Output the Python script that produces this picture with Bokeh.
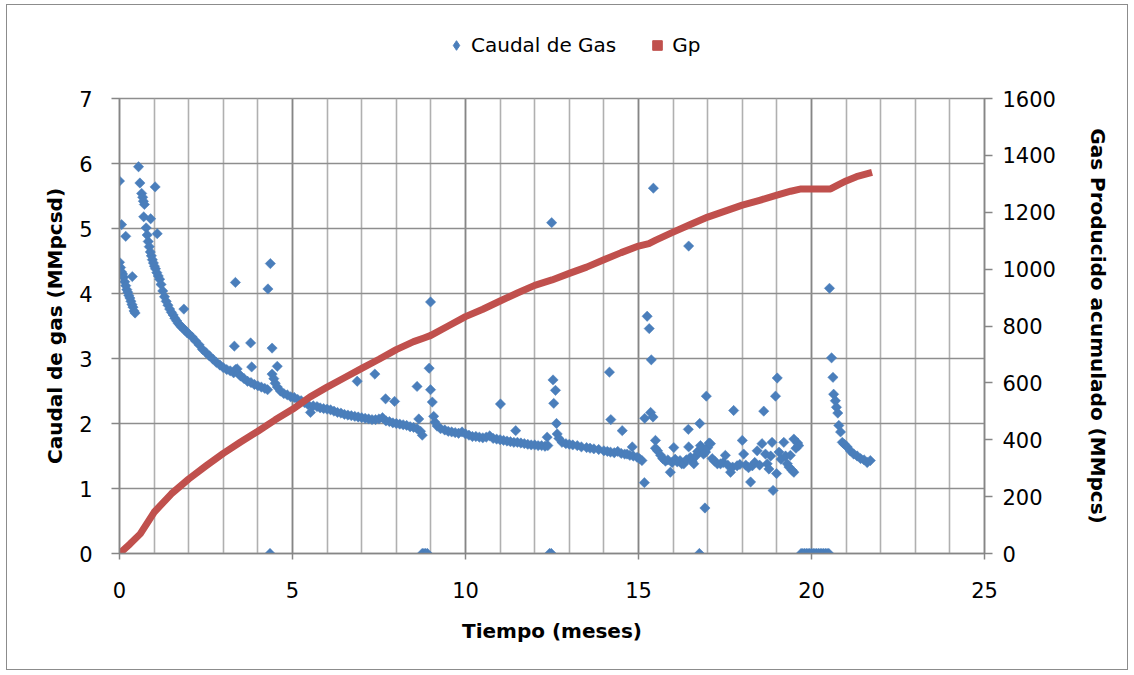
import math
from bokeh.plotting import figure
from bokeh.layouts import column
from bokeh.models import (Range1d, LinearAxis, SingleIntervalTicker, Legend, LegendItem)
from bokeh.embed import file_html
from bokeh.resources import INLINE

# ---------------- data ----------------
# Caudal de Gas (MMpcsd) vs tiempo (meses)
t_caudal = [
    # first decline
    0.00, 0.03, 0.06, 0.09, 0.12, 0.15, 0.18, 0.21, 0.24, 0.27, 0.30, 0.33, 0.36, 0.39, 0.42, 0.45,
    0.00, 0.06, 0.18, 0.37,
    # second decline
    0.55, 0.59, 0.64, 0.67, 0.69, 0.72, 0.70, 0.77, 0.80, 0.83, 0.86, 0.89, 0.92, 0.95, 0.98, 1.01,
    1.04, 1.08, 1.12, 1.16, 1.20, 1.25, 1.30, 1.35, 1.40, 1.45, 1.50, 1.55, 1.60, 1.65, 1.70, 1.75,
    1.80, 1.85, 1.90, 1.95, 2.00, 2.10, 2.20, 2.30, 2.40, 2.50, 2.60, 2.70, 2.80, 2.90, 3.00, 3.10,
    3.20, 3.30, 3.35, 3.40, 3.45, 3.50, 3.60, 3.70, 3.80, 3.90, 4.00, 4.10, 4.20, 4.28,
    1.03, 0.90, 1.09, 1.86, 3.35, 3.32, 3.79, 3.82, 4.29, 4.36, 4.41, 4.56,
    # third decline
    4.41, 4.46, 4.50, 4.56, 4.65, 4.75, 4.85, 4.95, 5.05, 5.15, 5.25, 5.35, 5.45, 5.52, 5.60, 5.71,
    5.80, 5.90, 6.00, 6.10, 6.20, 6.30, 6.40, 6.50, 6.60, 6.70, 6.80, 6.90, 7.00, 7.10, 7.20, 7.30,
    7.40, 7.50, 7.60, 7.70, 7.80, 7.90, 8.00, 8.10, 8.20, 8.30, 8.40, 8.50, 8.60, 8.70, 8.75,
    6.87, 7.38, 7.69, 7.95, 8.60, 8.65,
    # fourth decline
    8.99, 8.95, 8.99, 9.04, 9.08, 9.12, 9.18, 9.28, 9.40, 9.50, 9.60, 9.70, 9.80, 9.90, 10.00, 10.10,
    10.20, 10.30, 10.40, 10.50, 10.60, 10.70, 10.80, 10.90, 11.00, 11.10, 11.20, 11.30, 11.40, 11.50,
    11.60, 11.70, 11.80, 11.90, 12.00, 12.10, 12.20, 12.30, 12.38,
    11.01, 11.45, 12.36,
    # fifth decline
    12.49, 12.53, 12.60, 12.55, 12.63, 12.65, 12.70, 12.79, 12.90, 13.00, 13.10, 13.23, 13.35, 13.50,
    13.60, 13.71, 13.85, 14.00, 14.10, 14.19, 14.30, 14.40, 14.50, 14.60, 14.67, 14.75, 14.85, 14.96,
    15.03, 15.10,
    14.16, 14.20, 14.53, 14.82, 15.17, 15.25, 15.31, 15.37, 15.18, 15.35, 15.42, 15.43,
    # unstable period
    15.49, 15.49, 15.55, 15.64, 15.70, 15.78, 15.85, 15.92, 15.97, 16.02, 16.06, 16.12, 16.20, 16.25,
    16.31, 16.38, 16.45, 16.44, 16.50, 16.55, 16.60, 16.66, 16.71, 16.77, 16.79, 16.83, 16.88, 16.94,
    16.96, 16.92, 17.00, 17.04, 17.08, 17.13, 17.20, 17.28, 17.37, 17.45, 17.51, 17.58, 17.66, 17.75,
    17.72, 17.85, 17.93, 18.00, 18.04, 18.10, 18.18, 18.24, 18.29, 18.36, 18.43, 18.50, 18.57, 18.62,
    18.67, 18.72, 18.77, 18.82, 18.86, 18.89, 18.96, 19.01, 18.99, 19.06, 19.12, 19.20, 19.25, 19.30,
    19.35, 19.39, 19.44, 19.49, 19.49, 19.55, 19.60, 19.63, 16.45,
    # last decline
    20.52, 20.58, 20.62, 20.64, 20.69, 20.72, 20.76, 20.79, 20.84, 20.89, 20.95, 21.03, 21.12, 21.22,
    21.32, 21.42, 21.52, 21.61, 21.70,
    # shut-in (zero rate)
    4.35, 8.75, 8.80, 8.85, 8.90, 12.43, 12.48, 16.76,
    19.70, 19.75, 19.80, 19.85, 19.90, 19.95, 20.00, 20.05, 20.10, 20.15, 20.20, 20.25, 20.30,
    20.35, 20.40, 20.45, 20.50,
]
q_caudal = [
    4.48, 4.40, 4.33, 4.30, 4.25, 4.18, 4.12, 4.06, 4.02, 3.97, 3.93, 3.88, 3.83, 3.79, 3.73, 3.70,
    5.73, 5.06, 4.88, 4.26,
    5.95, 5.70, 5.54, 5.48, 5.42, 5.37, 5.18, 5.01, 4.90, 4.80, 4.72, 4.64, 4.58, 4.52, 4.47, 4.42,
    4.38, 4.32, 4.27, 4.22, 4.14, 4.04, 3.95, 3.88, 3.82, 3.76, 3.71, 3.67, 3.62, 3.58, 3.54, 3.51,
    3.48, 3.46, 3.43, 3.40, 3.38, 3.33, 3.27, 3.21, 3.14, 3.09, 3.04, 2.99, 2.94, 2.90, 2.86, 2.83,
    2.81, 2.78, 2.83, 2.84, 2.76, 2.73, 2.69, 2.65, 2.63, 2.60, 2.58, 2.56, 2.54, 2.52,
    5.64, 5.15, 4.92, 3.76, 4.17, 3.19, 3.24, 2.87, 4.07, 4.46, 3.16, 2.88,
    2.76, 2.69, 2.62, 2.56, 2.50, 2.46, 2.44, 2.41, 2.40, 2.37, 2.35, 2.32, 2.29, 2.17, 2.27, 2.26,
    2.24, 2.23, 2.22, 2.21, 2.19, 2.17, 2.16, 2.14, 2.13, 2.12, 2.11, 2.10, 2.09, 2.08, 2.07, 2.06,
    2.06, 2.07, 2.09, 2.04, 2.03, 2.01, 2.00, 1.99, 1.98, 1.97, 1.95, 1.94, 1.92, 1.88, 1.82,
    2.65, 2.76, 2.38, 2.34, 2.57, 2.07,
    3.87, 2.85, 2.52, 2.33, 2.11, 2.02, 1.96, 1.92, 1.90, 1.88, 1.87, 1.86, 1.85, 1.87, 1.84, 1.82,
    1.80, 1.80, 1.79, 1.78, 1.79, 1.81, 1.77, 1.76, 1.75, 1.74, 1.73, 1.72, 1.71, 1.71,
    1.70, 1.69, 1.68, 1.67, 1.67, 1.66, 1.66, 1.65, 1.66,
    2.30, 1.89, 1.79,
    5.09, 2.67, 2.51, 2.31, 2.00, 1.84, 1.77, 1.71, 1.69, 1.68, 1.67, 1.66, 1.64, 1.63,
    1.62, 1.61, 1.60, 1.58, 1.57, 1.56, 1.55, 1.57, 1.54, 1.53, 1.53, 1.51, 1.50, 1.48,
    1.46, 1.43,
    2.79, 2.06, 1.89, 1.64, 1.09, 3.65, 3.46, 2.98, 2.08, 2.17, 2.10, 5.62,
    1.74, 1.62, 1.58, 1.51, 1.46, 1.42, 1.44, 1.25, 1.40, 1.63, 1.45, 1.41, 1.43, 1.38,
    1.38, 1.44, 1.64, 1.91, 1.48, 1.42, 1.38, 1.50, 1.57, 2.00, 1.66, 1.62, 1.53, 1.56,
    2.42, 0.70, 1.63, 1.70, 1.69, 1.46, 1.42, 1.38, 1.38, 1.40, 1.51, 1.36, 1.25, 2.20,
    1.33, 1.35, 1.37, 1.74, 1.53, 1.36, 1.32, 1.10, 1.35, 1.40, 1.58, 1.36, 1.69, 2.19,
    1.53, 1.38, 1.30, 1.50, 1.71, 0.97, 2.42, 2.70, 1.23, 1.56, 1.45, 1.71, 1.50, 1.38,
    1.33, 1.51, 1.28, 1.76, 1.25, 1.62, 1.70, 1.66, 4.73,
    4.08, 3.01, 2.71, 2.45, 2.35, 2.25, 2.16, 1.97, 1.87, 1.71, 1.68, 1.64, 1.58, 1.53,
    1.50, 1.46, 1.44, 1.40, 1.43,
    0, 0, 0, 0, 0, 0, 0, 0,
    0, 0, 0, 0, 0, 0, 0, 0, 0, 0, 0, 0, 0,
    0, 0, 0, 0,
]

# Gp, gas producido acumulado (MMpcs)
t_gp = [0.0, 0.3, 0.6, 1.0, 1.5, 2.0, 2.5, 3.0, 3.5, 4.0, 4.5, 5.0, 5.5, 6.0, 6.5, 7.0, 7.5,
        8.0, 8.5, 8.8, 9.0, 9.5, 10.0, 10.5, 11.0, 11.5, 12.0, 12.5, 13.0, 13.5, 14.0, 14.5,
        15.0, 15.3, 15.5, 16.0, 16.5, 17.0, 17.5, 18.0, 18.5, 19.0, 19.4, 19.7, 20.0, 20.3,
        20.55, 20.8, 21.0, 21.3, 21.75]
gp = [0, 33, 69, 145, 210, 262, 308, 352, 392, 430, 470, 507, 550, 585, 618, 651, 683,
      717, 745, 758, 767, 800, 833, 859, 888, 916, 943, 962, 985, 1007, 1033, 1058,
      1081, 1090, 1102, 1130, 1157, 1183, 1204, 1225, 1242, 1260, 1274, 1282, 1282, 1282,
      1282, 1298, 1310, 1325, 1340]

x_max = 25
y_left_max = 7
y_right_max = 1600

BLUE = "#4a7ebb"
RED = "#c0504d"
FONT = "DejaVu Sans"
NAN = float("nan")

# ---------------- legend strip (own small figure above the chart) ----------------
lf = figure(width=1120, height=79, output_backend="svg", toolbar_location=None,
            x_range=Range1d(0, 1), y_range=Range1d(0, 1),
            x_axis_type=None, y_axis_type=None, min_border=0)
lf.outline_line_color = None
lf.background_fill_color = "white"
lf.border_fill_color = "white"
leg_caudal = lf.scatter([NAN], [NAN], marker="diamond", fill_color=BLUE, line_color=BLUE)
leg_gp = lf.scatter([NAN], [NAN], marker="square", fill_color=RED, line_color=RED)
legend = Legend(items=[LegendItem(label="Caudal de Gas", renderers=[leg_caudal]),
                       LegendItem(label="Gp", renderers=[leg_gp])],
                orientation="horizontal", location=(325, 27),
                label_text_font=FONT, label_text_font_size="20px", label_text_color="black",
                glyph_width=24, glyph_height=24, label_standoff=3, spacing=29,
                padding=0, margin=0, border_line_color=None, background_fill_alpha=0)
lf.add_layout(legend, "center")

# ---------------- main chart ----------------
p = figure(width=1120, height=585, output_backend="svg", toolbar_location=None,
           x_range=Range1d(0, x_max), y_range=Range1d(0, y_left_max),
           min_border_left=112, min_border_right=143, min_border_top=14, min_border_bottom=116)
p.background_fill_color = "white"
p.border_fill_color = "white"
p.outline_line_color = "#8e8e8e"
p.outline_line_width = 1.6

p.extra_y_ranges = {"gp": Range1d(0, y_right_max)}

p.xaxis.ticker = SingleIntervalTicker(interval=5, num_minor_ticks=5)
p.yaxis.ticker = SingleIntervalTicker(interval=1, num_minor_ticks=0)
right = LinearAxis(y_range_name="gp", ticker=SingleIntervalTicker(interval=200, num_minor_ticks=0))
p.add_layout(right, "right")

for ax in [p.xaxis[0], p.yaxis[0], right]:
    ax.axis_line_color = "#868686"
    ax.axis_line_width = 1.5
    ax.major_tick_line_color = "#868686"
    ax.major_tick_line_width = 1.5
    ax.major_tick_out = 8
    ax.major_tick_in = 0
    ax.minor_tick_line_color = None
    ax.major_label_text_font = FONT
    ax.major_label_text_font_size = "21px"
    ax.major_label_text_color = "black"
    ax.axis_label_text_font = FONT
    ax.axis_label_text_font_style = "bold"
    ax.axis_label_text_color = "black"
    ax.axis_label_text_font_size = "20px"

p.xaxis.major_tick_out = 6
p.xaxis.axis_label = "Tiempo (meses)"
p.xaxis.major_label_standoff = 22
p.xaxis.axis_label_standoff = 18

p.yaxis[0].axis_label = "Caudal de gas (MMpcsd)"
p.yaxis[0].major_label_standoff = 19
p.yaxis[0].axis_label_standoff = 9

right.axis_label = "Gas Producido acumulado (MMpcs)"
right.axis_label_orientation = "vertical"
right.major_label_standoff = 10
right.axis_label_standoff = 27

p.ygrid.grid_line_color = "#8e8e8e"
p.ygrid.grid_line_width = 1.6
p.xgrid.grid_line_color = "#868686"
p.xgrid.grid_line_width = 1.6
p.xgrid.minor_grid_line_color = "#b0b0b0"
p.xgrid.minor_grid_line_width = 1.6

p.scatter(t_caudal, q_caudal, marker="square", angle=math.pi / 4, size=7.3,
          fill_color=BLUE, line_color=BLUE, line_width=0.5)
p.line(t_gp, gp, y_range_name="gp", line_color=RED, line_width=7, line_join="round")

layout = column(lf, p, spacing=0,
                styles={"border": "1px solid #8c8c8c", "margin-left": "6px", "margin-top": "4px"})

open("out.html", "w").write(file_html(layout, INLINE))
